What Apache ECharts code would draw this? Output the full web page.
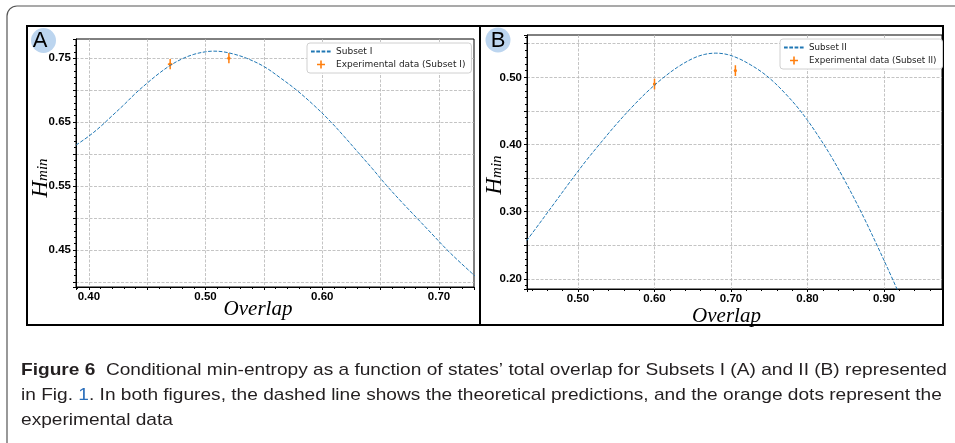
<!DOCTYPE html>
<html>
<head>
<meta charset="utf-8">
<script src="https://cdn.jsdelivr.net/npm/echarts@6/dist/echarts.min.js"></script>
<style>
  html, body { margin: 0; padding: 0; background: #fff; }
  #main { width: 955px; height: 443px; }
</style>
</head>
<body>
<div id="main"></div>
<script>
;(function () {
  // Panel A - Subset I (theory curve)
  const overlapA = [0.389, 0.400, 0.410, 0.420, 0.430, 0.440, 0.450, 0.460, 0.470, 0.480, 0.490, 0.500,
    0.507, 0.515, 0.525, 0.535, 0.550, 0.565, 0.578, 0.593, 0.607, 0.619, 0.631, 0.643, 0.655, 0.668,
    0.681, 0.694, 0.707, 0.719, 0.731]
  const entropyA = [0.614, 0.628, 0.643, 0.660, 0.677, 0.695, 0.711, 0.726, 0.739, 0.749, 0.756, 0.760,
    0.761, 0.760, 0.756, 0.750, 0.737, 0.718, 0.700, 0.676, 0.651, 0.627, 0.602, 0.577, 0.551, 0.525,
    0.500, 0.475, 0.450, 0.429, 0.409]
  const expOverlapA = [0.4697, 0.520]
  const expEntropyA = [0.7406, 0.750]
  const expErrXA = [0.002, 0.001]
  const expErrYA = [0.008, 0.008]

  // Panel B - Subset II
  const overlapB = [0.433, 0.450, 0.470, 0.490, 0.510, 0.530, 0.550, 0.570, 0.590, 0.610, 0.630, 0.650,
    0.665, 0.680, 0.695, 0.710, 0.725, 0.740, 0.755, 0.770, 0.785, 0.800, 0.815, 0.830, 0.845, 0.860,
    0.875, 0.890, 0.905, 0.920]
  const entropyB = [0.257, 0.283, 0.314, 0.345, 0.375, 0.403, 0.430, 0.455, 0.478, 0.498, 0.515, 0.528,
    0.534, 0.536, 0.534, 0.528, 0.519, 0.508, 0.494, 0.477, 0.458, 0.436, 0.411, 0.384, 0.354, 0.322,
    0.288, 0.252, 0.215, 0.177]
  const expOverlapB = [0.600, 0.7057]
  const expEntropyB = [0.490, 0.510]
  const expErrXB = [0.002, 0.001]
  const expErrYB = [0.008, 0.008]

  // labelled ticks
  const xTicksA = [0.40, 0.50, 0.60, 0.70]
  const yTicksA = [0.45, 0.55, 0.65, 0.75]
  const xTicksB = [0.50, 0.60, 0.70, 0.80, 0.90]
  const yTicksB = [0.20, 0.30, 0.40, 0.50]

  const seriesNames = ['Subset I', 'Experimental data (Subset I)', 'Subset II', 'Experimental data (Subset II)']

  const captionLines = [
    '{b|Figure 6}  Conditional min-entropy as a function of states\u2019 total overlap for Subsets I (A) and II (B) represented',
    'in Fig. {l|1}. In both figures, the dashed line shows the theoretical predictions, and the orange dots represent the',
    'experimental data',
  ]

  const BLUE = '#1f77b4'
  const ORANGE = '#ff7f0e'
  const PLUS = 'path://M4,0h2v4h4v2h-4v4h-2v-4h-4v-2h4z'

  const zip = (xs, ys) => xs.map((x, i) => [x, ys[i]])
  const zip4 = (a, b, c, d) => a.map((x, i) => [x, b[i], c[i], d[i]])

  function labelAt(ticks) {
    return (v) => (ticks.some((t) => Math.abs(t - v) < 1e-6) ? v.toFixed(2) : '')
  }

  const gridLine = { show: true, showMinLine: false, showMaxLine: false, lineStyle: { color: '#b5b5b5', type: [3, 1.5], width: 0.8 } }
  const tickFont = { color: '#000', fontWeight: 'bold', fontSize: 11.5, fontFamily: 'Liberation Sans' }

  function xAxis(gridIndex, min, max, step, ticks, nameGap, shiftLeft) {
    return {
      type: 'value', gridIndex, min, max, minInterval: step, maxInterval: step, splitNumber: 8,
      axisLine: { onZero: false, lineStyle: { color: '#000', width: 1 } },
      axisTick: { show: true, length: 3, lineStyle: { color: '#000' } },
      minorTick: { show: true, splitNumber: 5, length: 2, lineStyle: { color: '#000' } },
      splitLine: gridLine,
      axisLabel: { formatter: labelAt(ticks), margin: 4, ...tickFont },
      name: 'Overlap', nameLocation: 'middle', nameGap, nameMoveOverlap: false,
      nameTextStyle: { fontFamily: 'Liberation Serif', fontStyle: 'italic', fontSize: 21, color: '#000', padding: [0, shiftLeft * 2, 0, 0] },
    }
  }

  function yAxis(gridIndex, min, max, step, ticks, nameGap, shiftDown) {
    return {
      type: 'value', gridIndex, min, max, minInterval: step, maxInterval: step, splitNumber: 8,
      axisLine: { show: true, onZero: false, lineStyle: { color: '#000', width: 1 } },
      axisTick: { show: true, length: 3, lineStyle: { color: '#000' } },
      minorTick: { show: true, splitNumber: 5, length: 2, lineStyle: { color: '#000' } },
      splitLine: gridLine,
      axisLabel: { formatter: labelAt(ticks), margin: 5, ...tickFont },
      name: '{h|H}{s|min}', nameLocation: 'middle', nameRotate: 90, nameGap, nameMoveOverlap: false,
      nameTextStyle: {
        padding: [0, shiftDown * 2, 0, 0],
        rich: {
          h: { fontFamily: 'Liberation Serif', fontStyle: 'italic', fontSize: 23, lineHeight: 22, verticalAlign: 'top', color: '#000' },
          s: { fontFamily: 'Liberation Serif', fontStyle: 'italic', fontSize: 15, lineHeight: 15, padding: [12, 0, 0, 0], verticalAlign: 'bottom', color: '#000' },
        },
      },
    }
  }

  function errorBars(params, api) {
    const x = api.value(0)
    const y = api.value(1)
    const ex = api.value(2)
    const ey = api.value(3)
    const top = api.coord([x, y + ey])
    const bottom = api.coord([x, y - ey])
    const left = api.coord([x - ex, y])
    const right = api.coord([x + ex, y])
    const c = api.coord([x, y])
    const style = { stroke: ORANGE, lineWidth: 1.5 }
    return {
      type: 'group',
      children: [
        { type: 'line', shape: { x1: top[0], y1: top[1], x2: bottom[0], y2: bottom[1] }, style },
        { type: 'line', shape: { x1: left[0], y1: left[1], x2: right[0], y2: right[1] }, style },
        { type: 'circle', shape: { cx: c[0], cy: c[1], r: 1.6 }, style: { fill: ORANGE } },
      ],
    }
  }

  function legend(left, top, names, fontSize) {
    return {
      left, top, orient: 'vertical', selectedMode: false,
      backgroundColor: '#fff', borderColor: '#d0d0d0', borderWidth: 1, borderRadius: 3,
      padding: [3, 6, 3, 3], itemGap: 2, itemWidth: 20, itemHeight: 8,
      textStyle: { fontFamily: 'DejaVu Sans', fontSize, color: '#222', lineHeight: 11 },
      data: [
        // the dashed line only: the symbol that ECharts adds is hidden
        { name: names[0], itemStyle: { opacity: 0 } },
        { name: names[1], icon: PLUS, itemStyle: { color: ORANGE, borderWidth: 0 } },
      ],
    }
  }

  // caption: squeeze a regular sans to the condensed width of the original
  const FONT = 'Liberation Sans'
  const CAP_SIZE = 17
  const ctx = document.createElement('canvas').getContext('2d')
  ctx.font = 'bold ' + CAP_SIZE + 'px "' + FONT + '"'
  let w1 = ctx.measureText('Figure 6').width
  ctx.font = CAP_SIZE + 'px "' + FONT + '"'
  w1 += ctx.measureText(captionLines[0].replace('{b|Figure 6}', '')).width
  const sx = 926 / w1

  const captionY = [370, 395, 420]
  const caption = captionLines.map((text, i) => ({
    type: 'text', x: 21, y: captionY[i], scaleX: sx, originX: 0,
    style: {
      text, fontFamily: FONT, fontSize: CAP_SIZE, fill: '#231f20', verticalAlign: 'middle',
      rich: {
        b: { fontWeight: 'bold', fontFamily: FONT, fontSize: CAP_SIZE, fill: '#231f20' },
        l: { fill: '#2a6ebb', fontFamily: FONT, fontSize: CAP_SIZE },
      },
    },
  }))

  const chart = echarts.init(document.getElementById('main'), null, { renderer: 'canvas' })
  chart.setOption({
    animation: false,
    backgroundColor: '#fff',
    grid: [
      { left: 76, top: 39, width: 398, height: 248, show: true, borderColor: '#000', borderWidth: 1, backgroundColor: 'transparent' },
      { left: 527, top: 35, width: 415, height: 254, show: true, borderColor: '#000', borderWidth: 1, backgroundColor: 'transparent' },
    ],
    xAxis: [xAxis(0, 0.389, 0.730, 0.05, xTicksA, 12, 17), xAxis(1, 0.4334, 0.9757, 0.1, xTicksB, 17, 8)],
    yAxis: [yAxis(0, 0.392, 0.780, 0.05, yTicksA, 25, 15), yAxis(1, 0.185, 0.563, 0.05, yTicksB, 22, 13)],
    legend: [legend(307, 43, seriesNames.slice(0, 2), 9), legend(780, 39, seriesNames.slice(2, 4), 8.7)],
    series: [
      {
        name: seriesNames[0], type: 'line', xAxisIndex: 0, yAxisIndex: 0, smooth: 0.35, symbol: 'none', clip: true,
        lineStyle: { color: BLUE, width: 1, type: [3.7, 1.6] }, itemStyle: { color: BLUE },
        data: zip(overlapA, entropyA),
      },
      {
        name: seriesNames[1], type: 'custom', xAxisIndex: 0, yAxisIndex: 0, renderItem: errorBars,
        itemStyle: { color: ORANGE }, encode: { x: 0, y: 1 },
        data: zip4(expOverlapA, expEntropyA, expErrXA, expErrYA),
      },
      {
        name: seriesNames[2], type: 'line', xAxisIndex: 1, yAxisIndex: 1, smooth: 0.35, symbol: 'none', clip: true,
        lineStyle: { color: BLUE, width: 1, type: [3.7, 1.6] }, itemStyle: { color: BLUE },
        data: zip(overlapB, entropyB),
      },
      {
        name: seriesNames[3], type: 'custom', xAxisIndex: 1, yAxisIndex: 1, renderItem: errorBars,
        itemStyle: { color: ORANGE }, encode: { x: 0, y: 1 },
        data: zip4(expOverlapB, expEntropyB, expErrXB, expErrYB),
      },
    ],
    graphic: [
      { type: 'rect', shape: { x: 7, y: 6, width: 1000, height: 500, r: 10 }, style: { fill: null, stroke: '#555', lineWidth: 1.2 }, z: -10 },
      { type: 'rect', shape: { x: 27, y: 26, width: 453, height: 299 }, style: { fill: null, stroke: '#000', lineWidth: 2 } },
      { type: 'rect', shape: { x: 480, y: 26, width: 463, height: 299 }, style: { fill: null, stroke: '#000', lineWidth: 2 } },
      { type: 'circle', shape: { cx: 43.5, cy: 40.5, r: 12.5 }, style: { fill: '#bcd5ef' } },
      { type: 'text', x: 40, y: 41, style: { text: 'A', fontFamily: 'Liberation Sans', fontSize: 22, fill: '#000', align: 'center', verticalAlign: 'middle' } },
      { type: 'circle', shape: { cx: 498, cy: 40, r: 12.5 }, style: { fill: '#bcd5ef' } },
      { type: 'text', x: 498, y: 41, style: { text: 'B', fontFamily: 'Liberation Sans', fontSize: 22, fill: '#000', align: 'center', verticalAlign: 'middle' } },
      ...caption,
    ],
  })
})()
</script>
</body>
</html>
